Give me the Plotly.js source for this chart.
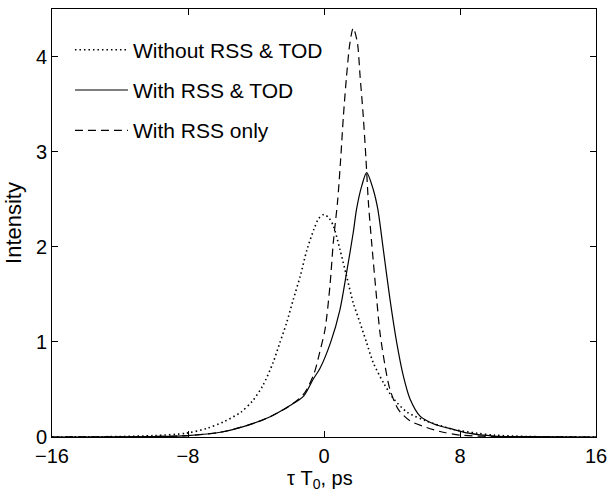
<!DOCTYPE html>
<html>
<head>
<meta charset="utf-8">
<script src="https://cdn.plot.ly/plotly-3.0.1.min.js"></script>
<style>html,body{margin:0;padding:0;background:#fff;}#chart{width:608px;height:493px;}</style>
</head>
<body>
<div id="chart"></div>
<script>
// Without RSS & TOD (dotted)
const xNoRss = [-16, -12, -10, -8.1, -6.9, -5.9, -4.9, -4.2, -3.6, -3.0, -2.6, -2.2, -1.8, -1.4, -1.0, -0.6, -0.3, 0, 0.3, 0.55, 0.94, 1.33, 1.72, 2.12, 2.51, 2.9, 3.5, 4.1, 4.9, 6.0, 7.6, 9, 10, 12, 16];
const yNoRss = [0, 0.005, 0.015, 0.04, 0.09, 0.16, 0.26, 0.38, 0.54, 0.78, 0.99, 1.20, 1.45, 1.69, 1.97, 2.18, 2.30, 2.34, 2.30, 2.22, 1.97, 1.69, 1.41, 1.20, 0.99, 0.78, 0.57, 0.40, 0.26, 0.17, 0.08, 0.04, 0.02, 0.005, 0];
// With RSS & TOD (solid)
const xRssTod = [-16, -10, -8, -6.1, -4.55, -3.2, -2, -1.2, -0.63, -0.24, 0.4, 0.94, 1.33, 1.72, 1.92, 2.22, 2.51, 2.9, 3.16, 3.49, 3.88, 4.28, 4.67, 5.06, 5.65, 6.43, 7.6, 8.5, 10, 12, 16];
const yRssTod = [0, 0.005, 0.015, 0.05, 0.12, 0.21, 0.33, 0.43, 0.61, 0.72, 1.0, 1.34, 1.73, 2.15, 2.40, 2.64, 2.78, 2.60, 2.40, 1.97, 1.45, 0.99, 0.64, 0.40, 0.22, 0.14, 0.08, 0.04, 0.01, 0.003, 0];
// With RSS only (dashed)
const xRssOnly = [-16, -10, -8, -6.1, -4.55, -3.2, -2, -1.2, -0.6, -0.24, 0.06, 0.35, 0.55, 0.8, 0.98, 1.14, 1.33, 1.53, 1.72, 1.96, 2.12, 2.31, 2.47, 2.61, 2.8, 3.1, 3.29, 3.59, 3.88, 4.37, 5.06, 6.04, 7, 8, 10, 16];
const yRssOnly = [0, 0.005, 0.015, 0.05, 0.12, 0.21, 0.33, 0.45, 0.66, 0.90, 1.13, 1.59, 2.05, 2.48, 2.92, 3.37, 3.80, 4.15, 4.30, 4.15, 3.80, 3.37, 2.92, 2.47, 2.05, 1.45, 1.10, 0.75, 0.50, 0.29, 0.17, 0.10, 0.05, 0.02, 0.005, 0];

const seriesNames = ["Without RSS & TOD", "With RSS & TOD", "With RSS only"];
const xTicks = [-16, -8, 0, 8, 16];
const yTicks = [0, 1, 2, 3, 4];
const xTitle = "\u03c4 T<sub>0</sub>, ps";
const yTitle = "Intensity";

const font = "Liberation Sans, Arial, sans-serif";
const traces = [
  {x: xNoRss, y: yNoRss, name: seriesNames[0], legendgroup: "a", mode: "lines",
   line: {color: "#000", width: 1.6, dash: "1.5px,3px", shape: "spline", smoothing: 0.8}},
  {x: xRssTod, y: yRssTod, name: seriesNames[1], legendgroup: "b", mode: "lines",
   line: {color: "#000", width: 1.2, dash: "solid", shape: "spline", smoothing: 0.8}},
  {x: xRssOnly, y: yRssOnly, name: seriesNames[2], legendgroup: "c", mode: "lines",
   line: {color: "#000", width: 1.2, dash: "8px,5px", shape: "spline", smoothing: 0.8}}
];
const axisCommon = {
  showline: true, linecolor: "#000", linewidth: 1, mirror: "ticks",
  ticks: "inside", ticklen: 6, tickcolor: "#000", showgrid: false, zeroline: false,
  tickfont: {family: font, size: 20, color: "#000"}
};
const layout = {
  width: 608, height: 493,
  margin: {l: 52, r: 12, t: 9, b: 56},
  paper_bgcolor: "#fff", plot_bgcolor: "#fff",
  showlegend: true,
  legend: {x: 0.033, y: 0.952, xanchor: "left", yanchor: "top", bgcolor: "rgba(0,0,0,0)",
    font: {family: font, size: 21, color: "#000"}, tracegroupgap: 10, itemwidth: 53},
  xaxis: Object.assign({}, axisCommon, {range: [-16, 16], tickvals: xTicks, ticklabelstandoff: 1,
    ticktext: xTicks.map(v => v < 0 ? "\u2212" + Math.abs(v) : String(v))}),
  yaxis: Object.assign({}, axisCommon, {range: [0, 4.5], tickvals: yTicks,
    title: {text: yTitle, font: {family: font, size: 22, color: "#000"}, standoff: 8}}),
  annotations: [{text: xTitle, xref: "paper", yref: "paper", x: 0.493, y: -0.066,
    xanchor: "center", yanchor: "top", showarrow: false,
    font: {family: font, size: 20, color: "#000"}}]
};
Plotly.newPlot("chart", traces, layout, {displayModeBar: false, staticPlot: true});
</script>
</body>
</html>
